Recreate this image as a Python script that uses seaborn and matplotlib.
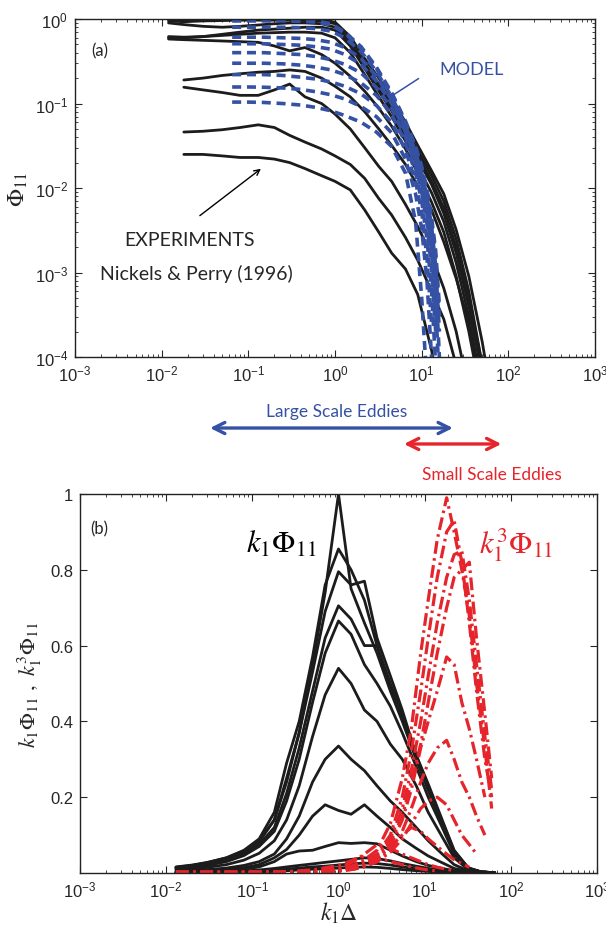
import numpy as np
import pandas as pd
import seaborn as sns
import matplotlib.pyplot as plt
from matplotlib.patches import FancyArrowPatch

nan = np.nan

# ---- (a) experiments, Phi_11 vs k1*Delta (Nickels & Perry 1996) ----
exp_k = [0.012, 0.018, 0.03, 0.05, 0.08, 0.13, 0.2, 0.3, 0.45, 0.7, 1.0, 1.5,
         2.2, 3.2, 4.5, 6.5, 9, 13, 18, 25, 35, 50, 60]
exp_phi = [
    [0.98, 0.97, 0.97, 0.98, 0.99, 0.99, 0.99, 0.99, 0.98, 0.97, 0.92, 0.62, 0.34, 0.2, 0.115, 0.06, 0.032, 0.016, 0.0085, 0.0032, 9e-4, 1.5e-4, 5e-5],
    [0.95, 0.93, 0.95, 0.96, 0.97, 0.97, 0.97, 0.97, 0.96, 0.95, 0.88, 0.55, 0.30, 0.17, 0.10, 0.05, 0.028, 0.014, 0.007, 0.0025, 6e-4, 8e-5, 3e-5],
    [0.9, 0.86, 0.82, 0.8, 0.82, 0.85, 0.88, 0.9, 0.9, 0.88, 0.8, 0.52, 0.28, 0.155, 0.09, 0.046, 0.025, 0.012, 0.0058, 0.002, 5e-4, 8e-5, 3e-5],
    [0.6, 0.6, 0.62, 0.66, 0.7, 0.74, 0.76, 0.78, 0.8, 0.8, 0.74, 0.48, 0.26, 0.14, 0.082, 0.042, 0.022, 0.011, 0.005, 0.0017, 4e-4, 6e-5, nan],
    [0.62, 0.61, 0.62, 0.64, 0.66, 0.68, 0.69, 0.7, 0.7, 0.68, 0.6, 0.4, 0.22, 0.12, 0.07, 0.036, 0.018, 0.0088, 0.004, 0.0013, 3e-4, 4e-5, nan],
    [0.58, 0.57, 0.56, 0.55, 0.54, 0.53, 0.48, 0.42, 0.46, 0.38, 0.3, 0.21, 0.14, 0.088, 0.054, 0.029, 0.015, 0.0068, 0.003, 9e-4, 2e-4, 3e-5, nan],
    [nan, 0.19, 0.2, 0.215, 0.225, 0.235, 0.24, 0.25, 0.24, 0.2, 0.16, 0.12, 0.08, 0.05, 0.032, 0.019, 0.0105, 0.0055, 0.0023, 8.5e-4, 2.5e-4, 3e-5, nan],
    [nan, 0.156, 0.145, 0.135, 0.125, 0.125, 0.145, 0.17, 0.12, 0.1, 0.075, 0.05, 0.03, 0.018, 0.012, 0.0064, 0.0035, 0.0016, 6.5e-4, 2e-4, 4e-5, nan, nan],
    [nan, 0.046, 0.047, 0.049, 0.052, 0.056, 0.052, 0.042, 0.035, 0.029, 0.024, 0.019, 0.013, 0.0075, 0.0048, 0.0026, 0.0014, 6e-4, 2.8e-4, 8e-5, nan, nan, nan],
    [nan, 0.025, 0.025, 0.024, 0.023, 0.023, 0.022, 0.02, 0.017, 0.014, 0.012, 0.0095, 0.0055, 0.003, 0.0017, 0.0011, 5.5e-4, 1.2e-4, 2e-5, nan, nan, nan, nan],
]

# ---- (a) model ----
model_k = [0.065, 0.1, 0.15, 0.25, 0.4, 0.6, 0.9, 1.3, 2, 3, 4.5, 6.5, 8.5, 10, 11.5, 13, 14.5, 16]
model_phi = [
    [0.98, 0.98, 0.98, 0.98, 0.97, 0.95, 0.88, 0.7, 0.47, 0.27, 0.135, 0.062, 0.031, 0.018, 0.0095, 0.0045, 0.0018, 4e-4],
    [0.95, 0.95, 0.95, 0.95, 0.94, 0.92, 0.85, 0.68, 0.45, 0.26, 0.13, 0.06, 0.03, 0.017, 0.009, 0.004, 0.0015, 3e-4],
    [0.8, 0.8, 0.8, 0.8, 0.79, 0.77, 0.72, 0.6, 0.41, 0.24, 0.12, 0.055, 0.027, 0.015, 0.008, 0.0035, 0.0012, 2e-4],
    [0.61, 0.61, 0.61, 0.6, 0.59, 0.57, 0.53, 0.46, 0.34, 0.21, 0.11, 0.05, 0.024, 0.013, 0.0065, 0.0027, 8e-4, 1e-4],
    [0.51, 0.51, 0.51, 0.5, 0.49, 0.47, 0.44, 0.38, 0.29, 0.185, 0.1, 0.046, 0.021, 0.011, 0.005, 0.0018, 4e-4, 5e-5],
    [0.40, 0.40, 0.40, 0.39, 0.38, 0.36, 0.33, 0.29, 0.23, 0.155, 0.088, 0.04, 0.018, 0.009, 0.0038, 0.0011, 2e-4, nan],
    [0.30, 0.30, 0.30, 0.295, 0.285, 0.27, 0.25, 0.22, 0.175, 0.125, 0.075, 0.034, 0.015, 0.007, 0.0025, 6e-4, 8e-5, nan],
    [0.22, 0.22, 0.22, 0.215, 0.205, 0.195, 0.18, 0.16, 0.13, 0.095, 0.06, 0.028, 0.012, 0.0052, 0.0015, 2.5e-4, nan, nan],
    [0.157, 0.157, 0.156, 0.153, 0.147, 0.138, 0.127, 0.113, 0.092, 0.07, 0.045, 0.022, 0.0085, 0.0033, 8e-4, 1e-4, nan, nan],
    [0.104, 0.104, 0.103, 0.1, 0.096, 0.09, 0.082, 0.072, 0.06, 0.046, 0.031, 0.015, 0.004, 5e-4, 5e-5, nan, nan, nan],
]

# ---- (b) k1*Phi_11 (experiments) ----
kphi_k = [0.013, 0.02, 0.03, 0.05, 0.08, 0.12, 0.18, 0.25, 0.35, 0.5, 0.7, 1.0,
          1.4, 2.0, 2.8, 4, 5.5, 8, 11, 16, 22, 32, 45, 65]
kphi = [
    [0.016, 0.021, 0.028, 0.04, 0.058, 0.085, 0.14, 0.24, 0.37, 0.55, 0.74, 1.0, 0.75, 0.66, 0.58, 0.48, 0.4, 0.3, 0.22, 0.13, 0.055, 0.012, 0.003, 0.0005],
    [0.015, 0.02, 0.027, 0.04, 0.06, 0.09, 0.16, 0.29, 0.4, 0.57, 0.76, 0.855, 0.8, 0.72, 0.6, 0.5, 0.42, 0.31, 0.23, 0.135, 0.058, 0.013, 0.003, 0.0005],
    [0.014, 0.019, 0.025, 0.037, 0.055, 0.082, 0.14, 0.25, 0.37, 0.53, 0.69, 0.795, 0.76, 0.77, 0.62, 0.52, 0.43, 0.31, 0.235, 0.14, 0.06, 0.014, 0.003, 0.0005],
    [0.012, 0.016, 0.022, 0.033, 0.05, 0.075, 0.12, 0.21, 0.33, 0.48, 0.62, 0.705, 0.67, 0.6, 0.6, 0.49, 0.41, 0.3, 0.22, 0.13, 0.055, 0.012, 0.003, 0.0005],
    [0.011, 0.015, 0.02, 0.03, 0.046, 0.07, 0.11, 0.19, 0.3, 0.45, 0.58, 0.665, 0.63, 0.55, 0.5, 0.44, 0.37, 0.28, 0.2, 0.12, 0.05, 0.011, 0.003, 0.0005],
    [0.008, 0.011, 0.015, 0.022, 0.034, 0.052, 0.085, 0.14, 0.23, 0.36, 0.47, 0.54, 0.5, 0.43, 0.4, 0.34, 0.3, 0.23, 0.16, 0.095, 0.04, 0.009, 0.002, 0.0004],
    [0.005, 0.007, 0.009, 0.013, 0.02, 0.03, 0.05, 0.09, 0.15, 0.24, 0.3, 0.335, 0.3, 0.27, 0.23, 0.19, 0.16, 0.12, 0.085, 0.05, 0.022, 0.006, 0.0015, 0.0003],
    [0.003, 0.004, 0.006, 0.009, 0.014, 0.022, 0.04, 0.062, 0.1, 0.15, 0.18, 0.165, 0.155, 0.18, 0.15, 0.12, 0.09, 0.065, 0.045, 0.027, 0.012, 0.004, 0.001, 0.0002],
    [0.002, 0.003, 0.004, 0.006, 0.01, 0.016, 0.03, 0.05, 0.058, 0.06, 0.07, 0.08, 0.078, 0.08, 0.077, 0.06, 0.045, 0.03, 0.02, 0.012, 0.006, 0.003, 0.001, 0.0003],
    [0.001, 0.0015, 0.002, 0.003, 0.005, 0.008, 0.012, 0.016, 0.02, 0.024, 0.028, 0.032, 0.036, 0.04, 0.038, 0.032, 0.025, 0.018, 0.012, 0.007, 0.004, 0.002, 0.001, 0.0002],
    [0.0008, 0.001, 0.0015, 0.002, 0.003, 0.005, 0.007, 0.01, 0.013, 0.016, 0.018, 0.021, 0.024, 0.026, 0.025, 0.021, 0.016, 0.011, 0.007, 0.004, 0.002, 0.001, 0.0005, 0.0001],
    [0.0005, 0.0007, 0.001, 0.0015, 0.002, 0.003, 0.004, 0.006, 0.008, 0.01, 0.011, 0.013, 0.015, 0.016, 0.015, 0.012, 0.009, 0.006, 0.004, 0.002, 0.001, 0.0005, 0.0002, 0.0001],
]

# ---- (b) k1^3*Phi_11 ----
k3phi_k = [0.013, 0.05, 0.2, 0.5, 1.0, 1.5, 2.0, 2.8, 4, 5.5, 7, 9, 11, 14, 18, 22, 27, 33, 40, 50, 60]
k3phi = [
    [0.002, 0.002, 0.002, 0.004, 0.01, 0.02, 0.035, 0.06, 0.13, 0.25, 0.38, 0.58, 0.72, 0.88, 0.99, 0.9, 0.8, 0.68, 0.5, 0.33, 0.17],
    [0.002, 0.002, 0.002, 0.003, 0.008, 0.016, 0.03, 0.05, 0.1, 0.2, 0.32, 0.48, 0.62, 0.78, 0.9, 0.93, 0.82, 0.66, 0.48, 0.3, 0.2],
    [0.002, 0.002, 0.002, 0.003, 0.007, 0.014, 0.025, 0.045, 0.09, 0.17, 0.27, 0.4, 0.52, 0.66, 0.78, 0.84, 0.85, 0.72, 0.55, 0.36, 0.22],
    [0.002, 0.002, 0.002, 0.003, 0.006, 0.012, 0.022, 0.04, 0.08, 0.15, 0.24, 0.34, 0.45, 0.58, 0.7, 0.78, 0.8, 0.82, 0.62, 0.42, 0.25],
    [0.002, 0.002, 0.002, 0.003, 0.006, 0.012, 0.02, 0.035, 0.07, 0.14, 0.22, 0.33, 0.4, 0.48, 0.57, 0.55, 0.45, 0.38, 0.3, 0.2, nan],
    [0.001, 0.001, 0.002, 0.003, 0.005, 0.01, 0.018, 0.03, 0.06, 0.11, 0.17, 0.24, 0.29, 0.33, 0.35, 0.3, 0.24, 0.2, 0.15, 0.1, nan],
    [0.001, 0.001, 0.001, 0.002, 0.005, 0.01, 0.016, 0.03, 0.055, 0.09, 0.13, 0.17, 0.19, 0.2, 0.18, 0.14, 0.1, 0.075, 0.05, nan, nan],
    [0.001, 0.001, 0.001, 0.002, 0.006, 0.012, 0.022, 0.04, 0.07, 0.1, 0.12, 0.11, 0.09, 0.07, 0.05, 0.035, 0.025, 0.015, nan, nan, nan],
    [0.001, 0.001, 0.001, 0.004, 0.012, 0.03, 0.05, 0.075, 0.065, 0.05, 0.04, 0.03, 0.022, 0.015, 0.01, 0.006, nan, nan, nan, nan, nan],
    [0.001, 0.001, 0.002, 0.008, 0.02, 0.035, 0.045, 0.04, 0.03, 0.022, 0.016, 0.011, 0.008, 0.005, nan, nan, nan, nan, nan, nan, nan],
]

decades = [1e-3, 1e-2, 1e-1, 1e0, 1e1, 1e2, 1e3]

BLUE = '#3551a4'
RED = '#e5252b'
BLACK = '#1c1c1c'


def long_form(k, curves):
    rows = []
    for i, c in enumerate(curves):
        for kk, v in zip(k, c):
            if not np.isnan(v):
                rows.append((i, kk, v))
    return pd.DataFrame(rows, columns=['curve', 'k', 'val'])


sns.set_style('ticks')
plt.rcParams['font.family'] = ['Liberation Sans', 'DejaVu Sans']
plt.rcParams['axes.edgecolor'] = '#222222'
plt.rcParams['axes.linewidth'] = 1.0

fig = plt.figure(figsize=(6.06, 9.28), dpi=100)

# ---------------- panel (a) ----------------
ax1 = fig.add_axes([0.1238, 0.6142, 0.8581, 0.3642])
ax1.set_xscale('log')
ax1.set_yscale('log')
sns.lineplot(data=long_form(exp_k, exp_phi), x='k', y='val', units='curve',
             estimator=None, color=BLACK, linewidth=2.0, ax=ax1)
sns.lineplot(data=long_form(model_k, model_phi), x='k', y='val', units='curve',
             estimator=None, color=BLUE, linewidth=2.6,
             linestyle=(0, (2.5, 1.6)), ax=ax1)
ax1.set_xlim(1e-3, 1e3)
ax1.set_ylim(1e-4, 1)
ax1.set_xticks(decades)
ax1.set_yticks([1e-4, 1e-3, 1e-2, 1e-1, 1e0])
ax1.set_xlabel('')
ax1.set_ylabel(r'$\Phi_{11}$', fontsize=17, math_fontfamily='stix', labelpad=3)
ax1.tick_params(which='both', direction='in', top=True, right=True, labelsize=12)
ax1.tick_params(which='major', length=5, pad=5)
ax1.tick_params(which='minor', length=2.5)

ax1.text(0.031, 0.906, '(a)', transform=ax1.transAxes, fontsize=12,
         va='center', ha='left', family=['Lato', 'DejaVu Sans'])
ax1.text(0.70, 0.852, 'MODEL', transform=ax1.transAxes, fontsize=13,
         color=BLUE, va='center', ha='left', family=['Lato', 'DejaVu Sans'])
ax1.annotate('', xy=(4.3, 0.119), xytext=(9.8, 0.206),
             arrowprops=dict(arrowstyle='-', color=BLUE, lw=1.1))
ax1.annotate('', xy=(0.148, 0.0177), xytext=(0.026, 0.0045),
             arrowprops=dict(arrowstyle='->', color='black', lw=1.0))
ax1.text(0.221, 0.349, 'EXPERIMENTS', transform=ax1.transAxes, fontsize=14,
         ha='center', va='center', family=['Lato', 'DejaVu Sans'])
ax1.text(0.233, 0.249, 'Nickels & Perry (1996)', transform=ax1.transAxes,
         fontsize=14, ha='center', va='center', family=['Lato', 'DejaVu Sans'])

# ---------------- scale arrows between panels ----------------
fig.add_artist(FancyArrowPatch((0.342, 0.5377), (0.752, 0.5377),
                               transform=fig.transFigure, arrowstyle='<->',
                               mutation_scale=20, lw=2.4, color=BLUE))
fig.add_artist(FancyArrowPatch((0.662, 0.5205), (0.832, 0.5205),
                               transform=fig.transFigure, arrowstyle='<->',
                               mutation_scale=20, lw=2.4, color=RED))
fig.text(0.556, 0.556, 'Large Scale Eddies', color=BLUE, fontsize=12.5,
         ha='center', va='center', family=['Lato', 'DejaVu Sans'])
fig.text(0.812, 0.488, 'Small Scale Eddies', color=RED, fontsize=12.5,
         ha='center', va='center', family=['Lato', 'DejaVu Sans'])

# ---------------- panel (b) ----------------
ax2 = fig.add_axes([0.1320, 0.0582, 0.8531, 0.4084])
ax2.set_xscale('log')
sns.lineplot(data=long_form(kphi_k, kphi), x='k', y='val', units='curve',
             estimator=None, color=BLACK, linewidth=2.0, ax=ax2)
sns.lineplot(data=long_form(k3phi_k, k3phi), x='k', y='val', units='curve',
             estimator=None, color=RED, linewidth=2.3,
             linestyle=(0, (4, 1.4, 0.8, 1.4)), ax=ax2)
ax2.set_xlim(1e-3, 1e3)
ax2.set_ylim(0, 1)
ax2.set_xticks(decades)
ax2.set_yticks([0.2, 0.4, 0.6, 0.8, 1.0])
ax2.set_yticklabels(['0.2', '0.4', '0.6', '0.8', '1'])
ax2.set_xlabel(r'$k_1\Delta$', fontsize=17, math_fontfamily='stix', labelpad=0)
ax2.set_ylabel(r'$k_1\Phi_{11}\ ,\ k_1^3\Phi_{11}$', fontsize=16,
               math_fontfamily='stix', labelpad=4)
ax2.tick_params(which='both', direction='in', top=True, right=True, labelsize=12)
ax2.tick_params(which='major', length=5, pad=5)
ax2.tick_params(which='minor', length=2.5)

ax2.text(0.019, 0.908, '(b)', transform=ax2.transAxes, fontsize=12,
         va='center', ha='left', family=['Lato', 'DejaVu Sans'])
ax2.text(0.39, 0.868, r'$k_1\Phi_{11}$', transform=ax2.transAxes, fontsize=22,
         math_fontfamily='stix', ha='center', va='center', color='black')
ax2.text(0.843, 0.868, r'$k_1^3\Phi_{11}$', transform=ax2.transAxes, fontsize=22,
         math_fontfamily='stix', ha='center', va='center', color=RED)

fig.savefig('out.png', dpi=100)
